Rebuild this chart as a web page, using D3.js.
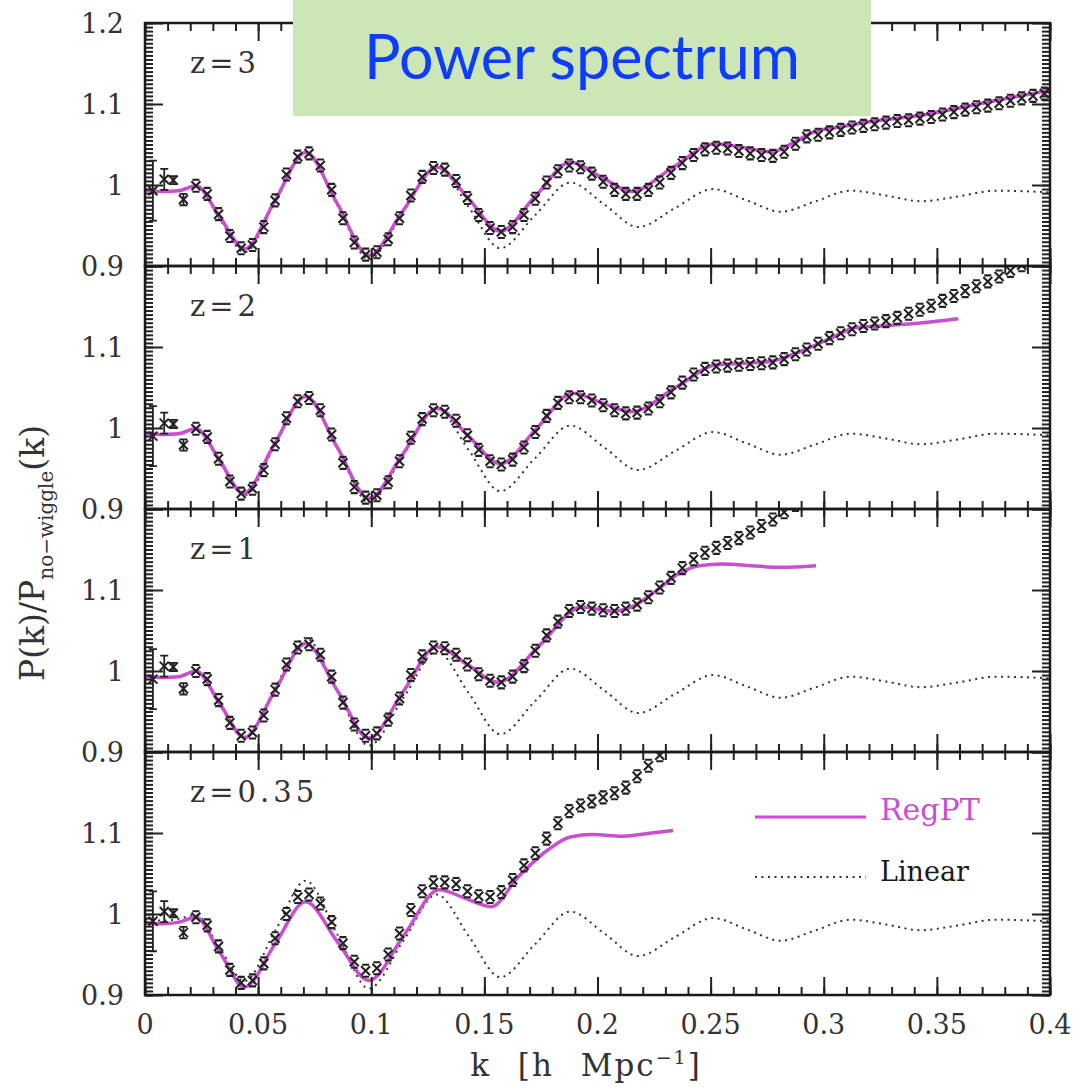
<!DOCTYPE html>
<html>
<head>
<meta charset="utf-8">
<script src="https://cdn.jsdelivr.net/npm/d3@7"></script>
<style>
  body { margin: 0; background: #fff; }
</style>
</head>
<body>
<svg id="chart" width="1074" height="1091" font-family="DejaVu Serif, serif"></svg>
<script>
// ---- data ----
const panelLabels = ["z=3", "z=2", "z=1", "z=0.35"];

// linear theory (same in every panel)
const linK = [0, 0.008, 0.015, 0.0225, 0.033, 0.044, 0.0575, 0.071, 0.085, 0.099, 0.114, 0.129, 0.143, 0.157, 0.1725, 0.188, 0.203, 0.218, 0.2345, 0.251, 0.266, 0.281, 0.2965, 0.312, 0.3275, 0.343, 0.3595, 0.376, 0.4];
const linV = [0.993, 0.992, 0.994, 0.999, 0.958, 0.917, 0.979, 1.041, 0.975, 0.908, 0.966, 1.024, 0.973, 0.922, 0.963, 1.003, 0.976, 0.948, 0.972, 0.995, 0.981, 0.967, 0.980, 0.993, 0.987, 0.980, 0.986, 0.993, 0.991];

// RegPT curves
const regK_z3 = [0, 0.008, 0.015, 0.0225, 0.033, 0.044, 0.0575, 0.071, 0.085, 0.099, 0.114, 0.129, 0.143, 0.157, 0.1725, 0.188, 0.2015, 0.215, 0.233, 0.252, 0.265, 0.277, 0.287, 0.296, 0.308, 0.32, 0.345, 0.37, 0.4];
const regV_z3 = [0.994, 0.992, 0.993, 0.999, 0.961, 0.921, 0.981, 1.040, 0.977, 0.913, 0.968, 1.022, 0.983, 0.943, 0.986, 1.028, 1.010, 0.992, 1.021, 1.051, 1.046, 1.041, 1.053, 1.066, 1.072, 1.078, 1.087, 1.101, 1.117];
const regK_z2 = [0, 0.008, 0.015, 0.0225, 0.033, 0.0435, 0.057, 0.071, 0.085, 0.099, 0.114, 0.129, 0.143, 0.157, 0.173, 0.189, 0.202, 0.215, 0.234, 0.2526, 0.265, 0.276, 0.29, 0.304, 0.314, 0.325, 0.34, 0.3595];
const regV_z2 = [0.993, 0.992, 0.993, 0.9995, 0.960, 0.919, 0.979, 1.039, 0.976, 0.913, 0.968, 1.024, 0.990, 0.956, 0.999, 1.043, 1.031, 1.020, 1.049, 1.078, 1.080, 1.082, 1.095, 1.112, 1.124, 1.126, 1.129, 1.135];
const regK_z1 = [0, 0.008, 0.015, 0.0225, 0.033, 0.044, 0.0575, 0.071, 0.085, 0.099, 0.114, 0.129, 0.1425, 0.156, 0.1745, 0.193, 0.206, 0.215, 0.224, 0.237, 0.245, 0.255, 0.268, 0.281, 0.2966];
const regV_z1 = [0.993, 0.992, 0.993, 1.0, 0.960, 0.918, 0.976, 1.034, 0.976, 0.917, 0.974, 1.030, 1.008, 0.986, 1.032, 1.079, 1.074, 1.079, 1.095, 1.122, 1.130, 1.132, 1.130, 1.128, 1.130];
const regK_z035 = [0, 0.008, 0.015, 0.0225, 0.033, 0.044, 0.0575, 0.071, 0.085, 0.099, 0.1145, 0.13, 0.141, 0.153, 0.165, 0.178, 0.188, 0.198, 0.211, 0.224, 0.2334];
const regV_z035 = [0.989, 0.988, 0.990, 0.996, 0.953, 0.910, 0.963, 1.015, 0.966, 0.918, 0.974, 1.030, 1.020, 1.009, 1.046, 1.079, 1.095, 1.098, 1.096, 1.100, 1.103];

// simulation points: the first four bins with large error bars
const lowK = [0.0035, 0.0085, 0.0125, 0.017];
const low_z3 = [0.993, 1.007, 1.006, 0.982];
const low_z2 = [0.990, 1.006, 1.005, 0.979];
const low_z1 = [0.990, 1.006, 1.005, 0.978];
const low_z035 = [0.991, 1.003, 1.001, 0.977];
const lowErr = [0.037, 0.013, 0.005, 0.007];

// remaining simulation bins
const dataK = [0.0225, 0.0275, 0.0325, 0.0375, 0.0425, 0.0475, 0.0525, 0.0575, 0.0625, 0.0675,
  0.0725, 0.0775, 0.0825, 0.0875, 0.0925, 0.0975, 0.1025, 0.1075, 0.1125, 0.1175,
  0.1225, 0.1275, 0.1325, 0.1375, 0.1425, 0.1475, 0.1525, 0.1575, 0.1625, 0.1675,
  0.1725, 0.1775, 0.1825, 0.1875, 0.1925, 0.1975, 0.2025, 0.2075, 0.2125, 0.2175,
  0.2225, 0.2275, 0.2325, 0.2375, 0.2425, 0.2475, 0.2525, 0.2575, 0.2625, 0.2675,
  0.2725, 0.2775, 0.2825, 0.2875, 0.2925, 0.2975, 0.3025, 0.3075, 0.3125, 0.3175,
  0.3225, 0.3275, 0.3325, 0.3375, 0.3425, 0.3475, 0.3525, 0.3575, 0.3625, 0.3675,
  0.3725, 0.3775, 0.3825, 0.3875, 0.3925, 0.3975];
const data_z3 = [0.999, 0.989, 0.964, 0.937, 0.922, 0.926, 0.948, 0.981, 1.013, 1.035,
  1.039, 1.024, 0.994, 0.959, 0.929, 0.914, 0.917, 0.933, 0.959, 0.987,
  1.010, 1.021, 1.019, 1.005, 0.984, 0.963, 0.947, 0.942, 0.948, 0.963,
  0.983, 1.003, 1.017, 1.024, 1.022, 1.014, 1.004, 0.994, 0.989, 0.989,
  0.994, 1.003, 1.015, 1.027, 1.037, 1.044, 1.046, 1.045, 1.042, 1.039,
  1.037, 1.036, 1.041, 1.051, 1.060, 1.062, 1.065, 1.068, 1.071, 1.073,
  1.075, 1.077, 1.079, 1.080, 1.082, 1.084, 1.087, 1.090, 1.093, 1.096,
  1.098, 1.101, 1.104, 1.107, 1.110, 1.113];
const data_z2 = [0.999, 0.989, 0.962, 0.934, 0.919, 0.925, 0.948, 0.980, 1.012, 1.033,
  1.037, 1.022, 0.992, 0.957, 0.927, 0.914, 0.917, 0.933, 0.959, 0.988,
  1.011, 1.022, 1.020, 1.009, 0.991, 0.973, 0.959, 0.955, 0.961, 0.976,
  0.995, 1.015, 1.031, 1.038, 1.038, 1.034, 1.028, 1.022, 1.018, 1.019,
  1.024, 1.033, 1.044, 1.056, 1.066, 1.073, 1.076, 1.077, 1.078, 1.079,
  1.080, 1.081, 1.085, 1.091, 1.097, 1.104, 1.111, 1.117, 1.122, 1.126,
  1.129, 1.132, 1.136, 1.141, 1.146, 1.151, 1.157, 1.163, 1.169, 1.175,
  1.181, 1.187, 1.194, 1.201];
const data_z1 = [1.000, 0.990, 0.964, 0.936, 0.920, 0.924, 0.945, 0.977, 1.008, 1.029,
  1.033, 1.020, 0.993, 0.961, 0.934, 0.920, 0.923, 0.940, 0.966, 0.995,
  1.018, 1.029, 1.028, 1.020, 1.008, 0.996, 0.988, 0.986, 0.993, 1.006,
  1.025, 1.044, 1.061, 1.074, 1.079, 1.077, 1.075, 1.074, 1.077, 1.082,
  1.091, 1.103, 1.115, 1.127, 1.138, 1.146, 1.152, 1.158, 1.164, 1.171,
  1.179, 1.187, 1.196, 1.205];
const data_z035 = [0.996, 0.986, 0.960, 0.931, 0.915, 0.918, 0.939, 0.970, 1.000, 1.021,
  1.024, 1.013, 0.990, 0.964, 0.941, 0.930, 0.933, 0.950, 0.976, 1.005,
  1.028, 1.039, 1.039, 1.037, 1.028, 1.022, 1.021, 1.027, 1.042, 1.060,
  1.075, 1.093, 1.112, 1.127, 1.134, 1.139, 1.144, 1.149, 1.156, 1.170,
  1.183, 1.196, 1.210];

const xTicks = [0, 0.05, 0.1, 0.15, 0.2, 0.25, 0.3, 0.35, 0.4];
const xTickLabels = ["0", "0.05", "0.1", "0.15", "0.2", "0.25", "0.3", "0.35", "0.4"];
const yTicks = [0.9, 1.0, 1.1, 1.2];
const yTickLabels = ["0.9", "1", "1.1", "1.2"];

// ---- layout ----
const left = 145, right = 1050, panelH = 243;
const panelTops = [23, 266, 509, 752];
const magenta = "#c94fcf";
const ink = "#222";

const svg = d3.select("#chart");
const x = d3.scaleLinear().domain([0, 0.4]).range([left, right]);

const panels = [
  { reg: [regK_z3, regV_z3], data: data_z3, low: low_z3 },
  { reg: [regK_z2, regV_z2], data: data_z2, low: low_z2 },
  { reg: [regK_z1, regV_z1], data: data_z1, low: low_z1 },
  { reg: [regK_z035, regV_z035], data: data_z035, low: low_z035 }
];

// x-shaped point with small error-bar caps
const markPath = "M-4.5,-4.5L4.5,4.5M-4.5,4.5L4.5,-4.5M-3.5,-6H3.5M-3.5,6H3.5";

panels.forEach((p, i) => {
  const top = panelTops[i];
  const y = d3.scaleLinear().domain([0.9, 1.2]).range([top + panelH, top]);
  const g = svg.append("g");

  g.append("clipPath").attr("id", "clip" + i)
    .append("rect").attr("x", left).attr("y", top).attr("width", right - left).attr("height", panelH);

  const plot = g.append("g").attr("clip-path", `url(#clip${i})`);
  const line = d3.line().x(d => x(d[0])).y(d => y(d[1])).curve(d3.curveMonotoneX);

  // linear theory, dotted
  plot.append("path")
    .attr("d", line(d3.zip(linK, linV)))
    .attr("fill", "none").attr("stroke", "#333").attr("stroke-width", 2)
    .attr("stroke-dasharray", "2,4.5");

  // RegPT
  plot.append("path")
    .attr("d", line(d3.zip(p.reg[0], p.reg[1])))
    .attr("fill", "none").attr("stroke", magenta).attr("stroke-width", 3.5);

  // low-k bins with error bars
  const lows = plot.selectAll("g.low").data(d3.zip(lowK, p.low, lowErr)).enter()
    .append("g").attr("class", "low");
  lows.append("path")
    .attr("d", d => `M${x(d[0])},${y(d[1] - d[2])}V${y(d[1] + d[2])}` +
      `M${x(d[0]) - 4},${y(d[1] - d[2])}h8M${x(d[0]) - 4},${y(d[1] + d[2])}h8`)
    .attr("stroke", ink).attr("stroke-width", 1.8).attr("fill", "none");
  lows.append("path")
    .attr("transform", d => `translate(${x(d[0])},${y(d[1])})`)
    .attr("d", "M-4.5,-4.5L4.5,4.5M-4.5,4.5L4.5,-4.5")
    .attr("stroke", ink).attr("stroke-width", 2);

  // simulation points
  plot.selectAll("path.pt").data(d3.zip(dataK, p.data)).enter()
    .append("path").attr("class", "pt")
    .attr("transform", d => `translate(${x(d[0])},${y(d[1])})`)
    .attr("d", markPath)
    .attr("fill", "none").attr("stroke", ink).attr("stroke-width", 2.1);

  // ticks, all four sides, pointing inward
  const tickStyle = sel => {
    sel.select(".domain").remove();
    sel.selectAll("line").attr("stroke", "#222").attr("stroke-width", 2);
  };
  const xMinor = d3.range(0, 0.4001, 0.01);
  const yMinor = d3.range(0.9, 1.2001, 0.005);
  g.append("g").attr("transform", `translate(0,${top + panelH})`)
    .call(d3.axisBottom(x).tickValues(xMinor).tickSize(-8).tickFormat("")).call(tickStyle);
  g.append("g").attr("transform", `translate(0,${top + panelH})`)
    .call(d3.axisBottom(x).tickValues(xTicks).tickSize(-18).tickFormat("")).call(tickStyle);
  g.append("g").attr("transform", `translate(0,${top})`)
    .call(d3.axisTop(x).tickValues(xMinor).tickSize(-8).tickFormat("")).call(tickStyle);
  g.append("g").attr("transform", `translate(0,${top})`)
    .call(d3.axisTop(x).tickValues(xTicks).tickSize(-18).tickFormat("")).call(tickStyle);
  g.append("g").attr("transform", `translate(${left},0)`)
    .call(d3.axisLeft(y).tickValues(yMinor).tickSize(-8).tickFormat("")).call(tickStyle);
  g.append("g").attr("transform", `translate(${left},0)`)
    .call(d3.axisLeft(y).tickValues(yTicks).tickSize(-18).tickFormat("")).call(tickStyle);
  g.append("g").attr("transform", `translate(${right},0)`)
    .call(d3.axisRight(y).tickValues(yMinor).tickSize(-8).tickFormat("")).call(tickStyle);
  g.append("g").attr("transform", `translate(${right},0)`)
    .call(d3.axisRight(y).tickValues(yTicks).tickSize(-18).tickFormat("")).call(tickStyle);

  g.append("rect")
    .attr("x", left).attr("y", top).attr("width", right - left).attr("height", panelH)
    .attr("fill", "none").attr("stroke", "#1a1a1a").attr("stroke-width", 2.5);

  // y tick labels (1.2 only on the top panel)
  g.selectAll("text.ylab")
    .data(yTicks.map((v, j) => [v, yTickLabels[j]]).filter(d => i === 0 || d[0] < 1.15))
    .enter().append("text").attr("class", "ylab")
    .attr("x", 124).attr("y", d => y(d[0])).attr("dy", "0.36em")
    .attr("text-anchor", "end").attr("font-size", 27).attr("fill", "#333")
    .text(d => d[1]);

  // redshift label
  g.append("text")
    .attr("x", 190).attr("y", top + 50)
    .attr("font-size", 29).attr("letter-spacing", 4).attr("fill", "#333")
    .text(panelLabels[i]);

  // x tick labels on the bottom panel
  if (i === panels.length - 1) {
    g.selectAll("text.xlab").data(d3.zip(xTicks, xTickLabels)).enter()
      .append("text").attr("class", "xlab")
      .attr("x", d => x(d[0])).attr("y", 1034)
      .attr("text-anchor", "middle").attr("font-size", 27).attr("fill", "#333")
      .text(d => d[1]);

    // legend
    g.append("line").attr("x1", 755).attr("x2", 866).attr("y1", 817).attr("y2", 817)
      .attr("stroke", magenta).attr("stroke-width", 3);
    g.append("text").attr("x", 880).attr("y", 820)
      .attr("font-size", 30).attr("fill", "#c94fcf").text("RegPT");
    g.append("line").attr("x1", 755).attr("x2", 866).attr("y1", 877).attr("y2", 877)
      .attr("stroke", "#333").attr("stroke-width", 2).attr("stroke-dasharray", "2,4.5");
    g.append("text").attr("x", 880).attr("y", 881)
      .attr("font-size", 27).attr("fill", "#1a1a1a").text("Linear");
  }
});

// axis titles
const xt = svg.append("text")
  .attr("x", 586).attr("y", 1076).attr("text-anchor", "middle")
  .attr("font-size", 31).attr("fill", "#333")
  .attr("letter-spacing", 2).attr("word-spacing", 15);
xt.append("tspan").text("k [h Mpc");
xt.append("tspan").attr("dy", -12).attr("font-size", 19).text("−1");
xt.append("tspan").attr("dy", 12).text("]");

const yt = svg.append("text")
  .attr("transform", "translate(44,553) rotate(-90)")
  .attr("text-anchor", "middle").attr("font-size", 33).attr("fill", "#333");
yt.append("tspan").text("P(k)/P");
yt.append("tspan").attr("dy", 9).attr("font-size", 20).text("no−wiggle");
yt.append("tspan").attr("dy", -9).text("(k)");

// slide title box
svg.append("rect").attr("x", 293).attr("y", 0).attr("width", 578).attr("height", 116)
  .attr("fill", "#cce6b5");
svg.append("text").attr("x", 582).attr("y", 79).attr("text-anchor", "middle")
  .attr("font-family", "Lato, 'Open Sans', sans-serif").attr("font-size", 62).attr("fill", "#0d3bff")
  .attr("textLength", 436).attr("lengthAdjust", "spacingAndGlyphs")
  .text("Power spectrum");
</script>
</body>
</html>
